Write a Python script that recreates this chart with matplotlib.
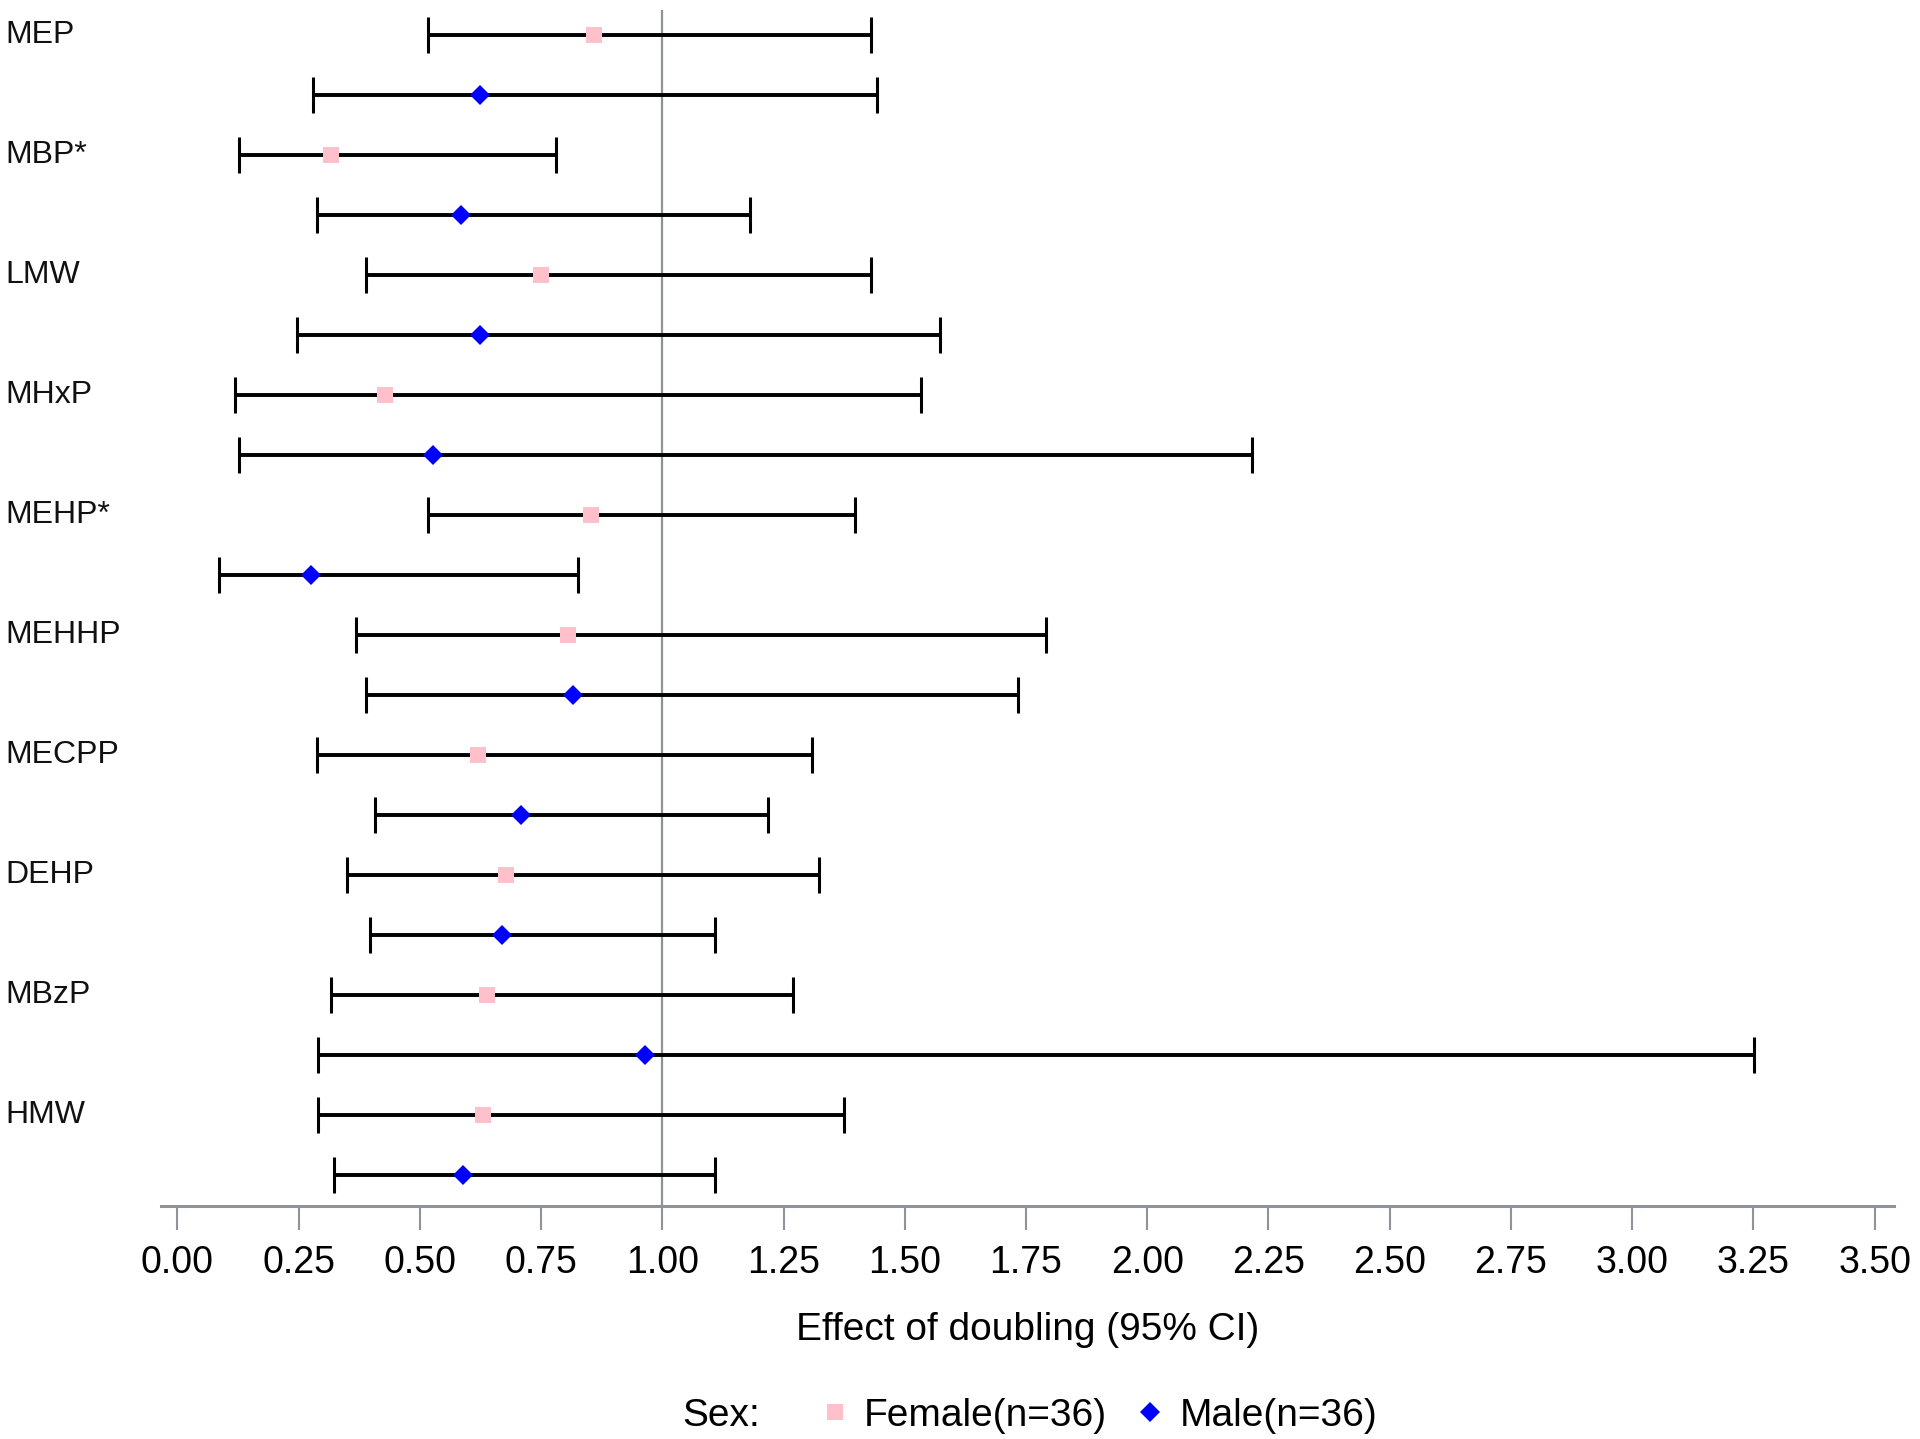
import matplotlib
matplotlib.use('Agg')
import matplotlib.pyplot as plt
from matplotlib.lines import Line2D
from matplotlib.transforms import blended_transform_factory

plt.rcParams['font.family'] = ['Liberation Sans', 'DejaVu Sans']

categories = ['MEP', 'MBP*', 'LMW', 'MHxP', 'MEHP*', 'MEHHP', 'MECPP', 'DEHP', 'MBzP', 'HMW']

female_est = [0.858, 0.317, 0.749, 0.427, 0.852, 0.806, 0.620, 0.678, 0.639, 0.630]
female_lo = [0.517, 0.126, 0.389, 0.118, 0.517, 0.369, 0.287, 0.350, 0.317, 0.290]
female_hi = [1.431, 0.781, 1.431, 1.533, 1.398, 1.791, 1.309, 1.322, 1.270, 1.374]

male_est = [0.623, 0.585, 0.623, 0.527, 0.276, 0.815, 0.708, 0.669, 0.965, 0.588]
male_lo = [0.279, 0.287, 0.247, 0.126, 0.086, 0.389, 0.408, 0.396, 0.290, 0.323]
male_hi = [1.443, 1.180, 1.573, 2.217, 0.826, 1.734, 1.218, 1.109, 3.252, 1.109]

x_ticks = [0.0, 0.25, 0.5, 0.75, 1.0, 1.25, 1.5, 1.75, 2.0, 2.25, 2.5, 2.75, 3.0, 3.25, 3.5]

FEMALE_COLOR = '#ffc0cb'
MALE_COLOR = '#0000ff'
GRAY = '#8f9297'

fig = plt.figure(figsize=(19.2, 14.39), dpi=100)
ax = fig.add_axes([161 / 1920, 1 - 1206 / 1439, (1894 - 161) / 1920, (1206 - 10) / 1439])

f_rows = [2 * i for i in range(len(categories))]
m_rows = [2 * i + 1 for i in range(len(categories))]


def draw_series(rows, est, lo, hi, marker, color, ms):
    err = [[e - l for e, l in zip(est, lo)], [h - e for e, h in zip(est, hi)]]
    ax.errorbar(est, rows, xerr=err, fmt='none', ecolor='black', elinewidth=2.8,
                capsize=13, capthick=2.2, zorder=3)
    ax.plot(est, rows, linestyle='none', marker=marker, color=color, markersize=ms,
            markeredgewidth=0, zorder=4)


ax.axvline(1.0, color=GRAY, lw=1.6, zorder=2)
draw_series(f_rows, female_est, female_lo, female_hi, 's', FEMALE_COLOR, 11)
draw_series(m_rows, male_est, male_lo, male_hi, 'D', MALE_COLOR, 10)

ax.set_xlim(-0.034, 3.54)
ax.set_ylim(19.51, -0.425)
ax.set_yticks([])
ax.set_xticks(x_ticks)
ax.set_xticklabels([f'{t:.2f}' for t in x_ticks], fontsize=27)
ax.tick_params(axis='x', direction='out', length=17, width=1.5, color=GRAY, pad=11)
for side in ['top', 'right', 'left']:
    ax.spines[side].set_visible(False)
ax.spines['bottom'].set_color(GRAY)
ax.spines['bottom'].set_linewidth(2.2)
ax.set_xlabel('Effect of doubling (95% CI)', fontsize=28, va='center')
# label centre sits ~124 px below the axis line
ax.xaxis.set_label_coords(0.5, -124 / 1196)

trans = blended_transform_factory(fig.transFigure, ax.transData)
for name, row in zip(categories, f_rows):
    ax.text(5 / 1920, row, name, transform=trans, ha='left', va='center',
            fontsize=23, color='#111111')

# legend row at the bottom
fig.text(682 / 1920, 1 - 1416 / 1439, 'Sex:', fontsize=28, ha='left', va='center')
handles = [Line2D([], [], linestyle='none', marker='s', color=FEMALE_COLOR, markersize=11, markeredgewidth=0),
           Line2D([], [], linestyle='none', marker='D', color=MALE_COLOR, markersize=10, markeredgewidth=0)]
fig.legend(handles, ['Female(n=36)', 'Male(n=36)'], loc='center left',
           bbox_to_anchor=(819.5 / 1920, 1 - 1416 / 1439), ncol=2, frameon=False,
           fontsize=28, handlelength=0.8, handletextpad=0.35, columnspacing=0.7,
           borderpad=0, borderaxespad=0)

fig.savefig('out.png', dpi=100)
